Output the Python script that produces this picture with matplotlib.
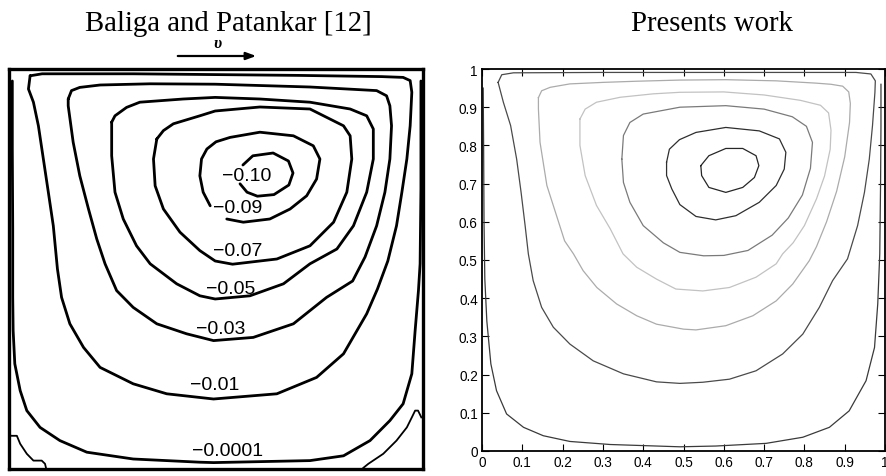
import matplotlib
matplotlib.use("Agg")
import matplotlib.pyplot as plt
import numpy as np

# ---------------- data: left panel (Baliga and Patankar) ----------------
L1_x = [0.008, 0.008, 0.009, 0.009, 0.010, 0.014, 0.027, 0.043, 0.075, 0.123, 0.188, 0.300, 0.461, 0.494, 0.727, 0.808, 0.872, 0.920, 0.952, 0.973, 0.981, 0.989, 0.993, 0.995, 0.995]
L1_y = [0.970, 0.800, 0.600, 0.429, 0.346, 0.263, 0.196, 0.146, 0.104, 0.071, 0.042, 0.025, 0.017, 0.016, 0.021, 0.033, 0.071, 0.121, 0.163, 0.238, 0.346, 0.446, 0.513, 0.700, 0.970]
eddyL_x = [0.0, 0.006, 0.019, 0.027, 0.043, 0.059, 0.079, 0.087, 0.090]
eddyL_y = [0.085, 0.083, 0.083, 0.063, 0.038, 0.021, 0.021, 0.013, 0.0]
eddyR_x = [0.856, 0.868, 0.904, 0.936, 0.961, 0.973, 0.981, 0.988, 0.996]
eddyR_y = [0.003, 0.013, 0.038, 0.071, 0.104, 0.129, 0.146, 0.146, 0.129]
L2_x = [0.051, 0.080, 0.300, 0.500, 0.700, 0.900, 0.952, 0.969, 0.973, 0.969, 0.961, 0.949, 0.936, 0.915, 0.890, 0.864, 0.808, 0.743, 0.647, 0.494, 0.381, 0.300, 0.220, 0.180, 0.147, 0.127, 0.117, 0.107, 0.095, 0.083, 0.071, 0.059, 0.047, 0.051]
L2_y = [0.983, 0.988, 0.988, 0.986, 0.984, 0.981, 0.979, 0.971, 0.942, 0.858, 0.775, 0.692, 0.608, 0.520, 0.450, 0.388, 0.288, 0.229, 0.188, 0.175, 0.188, 0.213, 0.254, 0.304, 0.363, 0.429, 0.500, 0.608, 0.692, 0.775, 0.858, 0.917, 0.950, 0.983]
L3_x = [0.143, 0.151, 0.171, 0.220, 0.341, 0.498, 0.727, 0.888, 0.912, 0.920, 0.924, 0.920, 0.908, 0.888, 0.860, 0.830, 0.767, 0.687, 0.590, 0.494, 0.429, 0.357, 0.300, 0.260, 0.232, 0.212, 0.192, 0.171, 0.155, 0.143, 0.143]
L3_y = [0.925, 0.946, 0.954, 0.960, 0.963, 0.962, 0.955, 0.946, 0.933, 0.908, 0.858, 0.775, 0.692, 0.608, 0.530, 0.470, 0.429, 0.363, 0.329, 0.321, 0.338, 0.363, 0.404, 0.446, 0.513, 0.575, 0.650, 0.733, 0.817, 0.908, 0.925]
L4_x = [0.248, 0.256, 0.284, 0.316, 0.421, 0.498, 0.606, 0.727, 0.824, 0.864, 0.880, 0.880, 0.864, 0.832, 0.792, 0.727, 0.663, 0.582, 0.498, 0.461, 0.405, 0.341, 0.308, 0.276, 0.256, 0.248, 0.248]
L4_y = [0.867, 0.883, 0.904, 0.917, 0.925, 0.929, 0.925, 0.917, 0.900, 0.883, 0.850, 0.775, 0.692, 0.608, 0.550, 0.513, 0.463, 0.433, 0.425, 0.433, 0.463, 0.513, 0.558, 0.625, 0.692, 0.783, 0.867]
L5_x = [0.357, 0.373, 0.397, 0.461, 0.498, 0.606, 0.727, 0.808, 0.824, 0.828, 0.816, 0.784, 0.727, 0.647, 0.540, 0.498, 0.461, 0.413, 0.373, 0.353, 0.349, 0.357]
L5_y = [0.825, 0.846, 0.863, 0.883, 0.895, 0.905, 0.900, 0.858, 0.833, 0.775, 0.692, 0.617, 0.558, 0.525, 0.512, 0.520, 0.546, 0.592, 0.650, 0.708, 0.775, 0.825]
L6_x = [0.526, 0.566, 0.630, 0.679, 0.719, 0.743, 0.751, 0.735, 0.687, 0.606, 0.534, 0.500, 0.478, 0.465, 0.461, 0.469, 0.486]
L6_y = [0.625, 0.617, 0.625, 0.650, 0.683, 0.725, 0.775, 0.808, 0.833, 0.842, 0.829, 0.818, 0.800, 0.775, 0.733, 0.692, 0.658]
L7_x = [0.565, 0.589, 0.638, 0.675, 0.686, 0.676, 0.640, 0.600, 0.575, 0.558]
L7_y = [0.760, 0.783, 0.790, 0.770, 0.740, 0.710, 0.686, 0.682, 0.692, 0.713]
left_labels = ["\u22120.10", "\u22120.09", "\u22120.07", "\u22120.05", "\u22120.03", "\u22120.01", "\u22120.0001"]
left_label_x = [0.575, 0.553, 0.553, 0.536, 0.512, 0.498, 0.529]
left_label_y = [0.733, 0.654, 0.546, 0.451, 0.351, 0.211, 0.046]

# ---------------- data: right panel (present work) ----------------
A_x = [0.003, 0.004, 0.005, 0.007, 0.012, 0.022, 0.036, 0.061, 0.103, 0.152, 0.218, 0.318, 0.491, 0.580, 0.705, 0.796, 0.862, 0.911, 0.953, 0.974, 0.982, 0.987, 0.989, 0.990, 0.990]
A_y = [0.950, 0.800, 0.600, 0.450, 0.340, 0.228, 0.158, 0.097, 0.062, 0.040, 0.025, 0.017, 0.011, 0.013, 0.020, 0.036, 0.062, 0.105, 0.184, 0.271, 0.385, 0.516, 0.700, 0.850, 0.960]
B_x = [0.040, 0.049, 0.078, 0.300, 0.500, 0.700, 0.928, 0.965, 0.976, 0.975, 0.969, 0.961, 0.949, 0.932, 0.907, 0.870, 0.837, 0.796, 0.746, 0.680, 0.614, 0.548, 0.491, 0.433, 0.351, 0.276, 0.218, 0.177, 0.148, 0.127, 0.115, 0.107, 0.097, 0.086, 0.071, 0.053, 0.040]
B_y = [0.965, 0.985, 0.990, 0.991, 0.991, 0.991, 0.991, 0.987, 0.969, 0.939, 0.852, 0.764, 0.677, 0.590, 0.503, 0.446, 0.376, 0.306, 0.254, 0.210, 0.188, 0.180, 0.177, 0.181, 0.202, 0.236, 0.280, 0.324, 0.376, 0.446, 0.516, 0.590, 0.677, 0.764, 0.852, 0.913, 0.965]
C_x = [0.140, 0.148, 0.169, 0.218, 0.301, 0.384, 0.491, 0.605, 0.730, 0.829, 0.866, 0.895, 0.910, 0.914, 0.912, 0.900, 0.880, 0.855, 0.830, 0.812, 0.771, 0.730, 0.672, 0.605, 0.531, 0.500, 0.433, 0.384, 0.334, 0.285, 0.251, 0.227, 0.205, 0.185, 0.161, 0.144, 0.140, 0.140]
C_y = [0.925, 0.943, 0.952, 0.961, 0.965, 0.968, 0.971, 0.972, 0.969, 0.963, 0.960, 0.955, 0.940, 0.910, 0.860, 0.770, 0.680, 0.600, 0.535, 0.498, 0.437, 0.393, 0.354, 0.328, 0.317, 0.319, 0.332, 0.354, 0.385, 0.428, 0.472, 0.516, 0.550, 0.616, 0.695, 0.808, 0.895, 0.925]
D_x = [0.243, 0.256, 0.284, 0.343, 0.425, 0.491, 0.600, 0.700, 0.790, 0.840, 0.860, 0.866, 0.864, 0.850, 0.830, 0.800, 0.772, 0.746, 0.730, 0.680, 0.614, 0.548, 0.481, 0.433, 0.384, 0.350, 0.318, 0.284, 0.256, 0.243, 0.243]
D_y = [0.869, 0.895, 0.913, 0.926, 0.935, 0.939, 0.940, 0.932, 0.918, 0.905, 0.885, 0.840, 0.790, 0.720, 0.660, 0.590, 0.545, 0.516, 0.490, 0.455, 0.428, 0.419, 0.424, 0.450, 0.481, 0.516, 0.582, 0.643, 0.721, 0.800, 0.869]
E_x = [0.347, 0.351, 0.367, 0.400, 0.491, 0.605, 0.700, 0.770, 0.805, 0.820, 0.815, 0.795, 0.760, 0.720, 0.660, 0.600, 0.550, 0.491, 0.450, 0.400, 0.367, 0.351, 0.347]
E_y = [0.764, 0.826, 0.860, 0.882, 0.900, 0.904, 0.895, 0.875, 0.850, 0.808, 0.740, 0.670, 0.610, 0.565, 0.525, 0.512, 0.511, 0.520, 0.545, 0.590, 0.651, 0.703, 0.764]
F_x = [0.458, 0.465, 0.490, 0.531, 0.605, 0.688, 0.738, 0.754, 0.750, 0.730, 0.688, 0.630, 0.580, 0.531, 0.491, 0.471, 0.458, 0.458]
F_y = [0.756, 0.790, 0.815, 0.834, 0.847, 0.838, 0.817, 0.782, 0.738, 0.695, 0.651, 0.616, 0.605, 0.614, 0.645, 0.686, 0.721, 0.756]
G_x = [0.543, 0.563, 0.605, 0.647, 0.680, 0.687, 0.676, 0.647, 0.605, 0.563, 0.545, 0.543]
G_y = [0.747, 0.773, 0.792, 0.792, 0.773, 0.747, 0.716, 0.690, 0.677, 0.690, 0.721, 0.747]
right_ticks = [0.0, 0.1, 0.2, 0.3, 0.4, 0.5, 0.6, 0.7, 0.8, 0.9, 1.0]
right_tick_labels = ["0", "0.1", "0.2", "0.3", "0.4", "0.5", "0.6", "0.7", "0.8", "0.9", "1"]

left_title = "Baliga and Patankar [12]"
right_title = "Presents work"

# ---------------- figure ----------------
W, H = 886, 477
fig = plt.figure(figsize=(W / 100, H / 100), dpi=100)

def fbox(x0, y0, x1, y1):
    return [x0 / W, 1 - y1 / H, (x1 - x0) / W, (y1 - y0) / H]

serif = ["Liberation Serif", "DejaVu Serif"]
sans = ["Liberation Sans", "DejaVu Sans"]

# left panel
axL = fig.add_axes(fbox(9, 70, 423, 470))
axL.set_xlim(0, 1)
axL.set_ylim(0, 1)
axL.set_xticks([])
axL.set_yticks([])
for s in axL.spines.values():
    s.set_linewidth(2.4)
    s.set_color("black")
lw_left = 2.0
for xs, ys in [(L1_x, L1_y), (L2_x, L2_y), (L3_x, L3_y), (L4_x, L4_y), (L5_x, L5_y), (L6_x, L6_y), (L7_x, L7_y)]:
    axL.plot(xs, ys, color="black", lw=lw_left, solid_joinstyle="round", solid_capstyle="round")
for xs, ys in [(eddyL_x, eddyL_y), (eddyR_x, eddyR_y)]:
    axL.plot(xs, ys, color="black", lw=1.3)
for t, x, y in zip(left_labels, left_label_x, left_label_y):
    axL.text(x, y, t, ha="center", va="center", fontsize=14, family=sans)

# right panel
axR = fig.add_axes(fbox(482, 70, 885, 452))
axR.set_xlim(0, 1)
axR.set_ylim(0, 1)
styles = [
    (A_x, A_y, "#3a3a3a"),
    (B_x, B_y, "#4a4a4a"),
    (C_x, C_y, "#ababab"),
    (D_x, D_y, "#c2c2c2"),
    (E_x, E_y, "#7a7a7a"),
    (F_x, F_y, "#2e2e2e"),
    (G_x, G_y, "#262626"),
]
for xs, ys, c in styles:
    axR.plot(xs, ys, color=c, lw=0.9, solid_joinstyle="round")
axR.set_xticks(right_ticks)
axR.set_yticks(right_ticks)
axR.set_xticklabels(right_tick_labels, family=sans, fontsize=9.8)
axR.set_yticklabels(right_tick_labels, family=sans, fontsize=9.8)
axR.tick_params(direction="in", length=5, width=0.8, top=True, right=True, pad=3)
for s in axR.spines.values():
    s.set_linewidth(1.3)

# titles
fig.text(228 / W, 1 - 31 / H, left_title, ha="center", va="baseline", fontsize=20.7, family=serif)
fig.text(712 / W, 1 - 31 / H, right_title, ha="center", va="baseline", fontsize=20.7, family=serif)

# lid arrow with velocity symbol
fig.add_artist(matplotlib.patches.FancyArrowPatch((175 / W, 1 - 57 / H), (259 / W, 1 - 57 / H),
                                                  transform=fig.transFigure, arrowstyle="-|>,head_length=6,head_width=2.2",
                                                  color="black", lw=1.6, mutation_scale=1))
fig.text(218 / W, 1 - 44 / H, "\u03c5", ha="center", va="center", fontsize=12, family=serif,
         style="italic", weight="bold")

fig.savefig("out.png", dpi=100)
